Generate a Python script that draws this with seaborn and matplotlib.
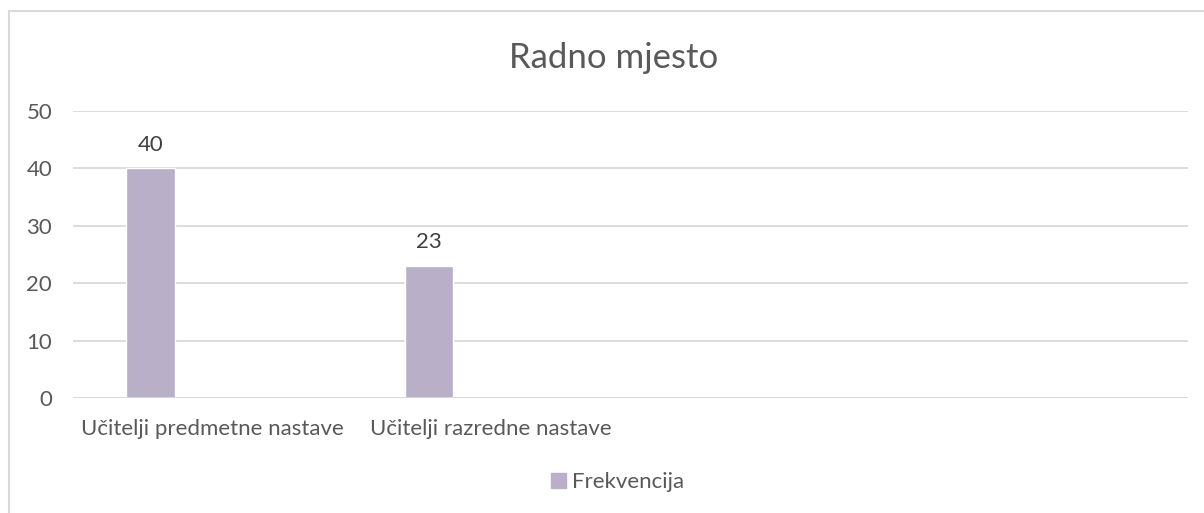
import matplotlib
matplotlib.use("Agg")
import matplotlib.pyplot as plt
import seaborn as sns
import numpy as np
import pandas as pd
from matplotlib.patches import Rectangle, Patch

categories = ["Učitelji predmetne nastave", "Učitelji razredne nastave"]
values = [40, 23]
series_name = "Frekvencija"
title = "Radno mjesto"
y_ticks = [0, 10, 20, 30, 40, 50]

BAR_COLOR = "#B9AFC9"
TEXT_COLOR = "#595959"
GRID_COLOR = "#D9D9D9"

df = pd.DataFrame({"kategorija": categories, "vrijednost": values})

sns.set_theme(style="white")
plt.rcParams["font.family"] = ["Lato", "DejaVu Sans"]

fig = plt.figure(figsize=(12.04, 5.13), dpi=100)
ax = fig.add_axes([73 / 1204, 1 - 398 / 513, (1188 - 73) / 1204, (398 - 111) / 513])

sns.barplot(data=df, x="kategorija", y="vrijednost", color=BAR_COLOR,
            width=0.175, saturation=1, ax=ax)

# Excel ostavlja mjesta za 4 kategorije, stupci su pomaknuti ulijevo od oznaka
ax.set_xlim(-0.277, 3.723)
ax.set_xticks(np.arange(len(categories)) + 0.223, categories)
ax.set_ylim(0, 50)
ax.set_yticks(y_ticks)
ax.yaxis.grid(True, color=GRID_COLOR, linewidth=1.3)
ax.set_axisbelow(True)
for s in ax.spines.values():
    s.set_visible(False)
ax.axhline(0, color=GRID_COLOR, linewidth=1.3)

ax.set_xlabel("")
ax.set_ylabel("")
ax.tick_params(axis="both", length=0, labelsize=16, colors=TEXT_COLOR)
ax.tick_params(axis="x", pad=15)
ax.tick_params(axis="y", pad=15)

ax.bar_label(ax.containers[0], fontsize=16, color="#404040", padding=10)

fig.text(614 / 1204, 1 - 58 / 513, title, ha="center", va="center",
         fontsize=25, color=TEXT_COLOR)

leg = fig.legend(handles=[Patch(color=BAR_COLOR, label=series_name)],
                 loc="center", bbox_to_anchor=(618 / 1204, 1 - 482 / 513),
                 frameon=False, fontsize=16, handlelength=0.65, handleheight=0.65,
                 handletextpad=0.3)
for t in leg.get_texts():
    t.set_color(TEXT_COLOR)

# okvir grafikona
fig.patches.append(Rectangle((9 / 1204, -0.01), 1.0, 1 - 11 / 513 + 0.01,
                             transform=fig.transFigure, fill=False,
                             edgecolor=GRID_COLOR, linewidth=1.5))

fig.savefig("out.png", dpi=100)
